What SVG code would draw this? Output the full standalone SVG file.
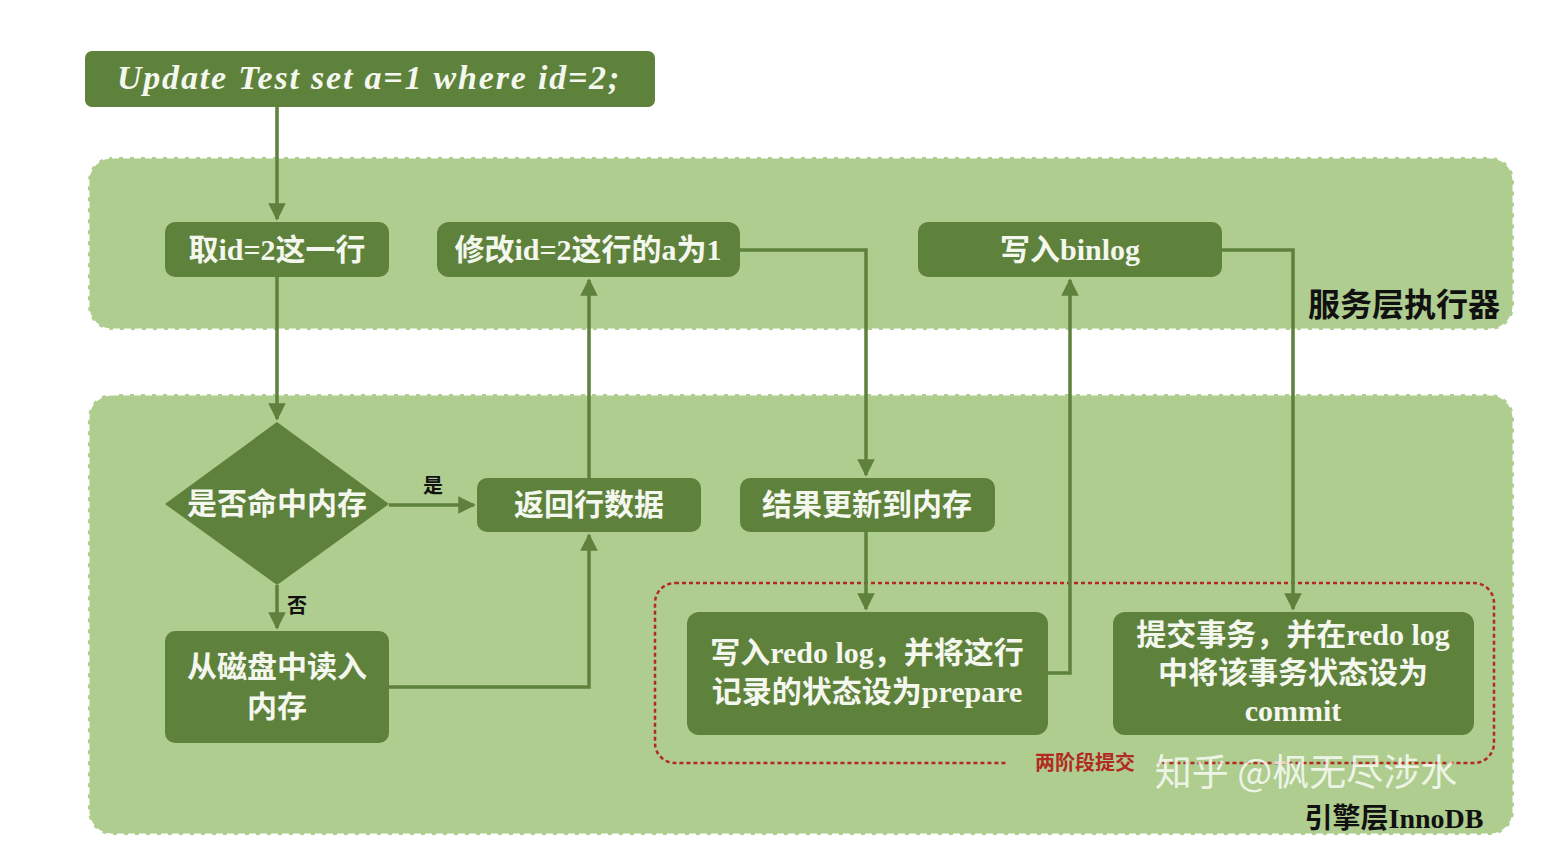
<svg xmlns="http://www.w3.org/2000/svg" width="1564" height="852" viewBox="0 0 1564 852">
<style>
.panel{fill:#aecd8f;stroke:#ffffff;stroke-width:3;stroke-dasharray:7 4}
.node{fill:#5e813c}
.t{font-family:"Liberation Serif","Noto Sans CJK SC",serif;font-weight:bold;fill:#f4f7ee;font-size:30px;text-anchor:middle}
.lbl{font-family:"Liberation Serif","Noto Sans CJK SC",serif;font-weight:bold;fill:#111;text-anchor:middle}
.c{fill:none;stroke:#5e813c;stroke-width:3.5}
</style>
<defs>
<marker id="arr" viewBox="0 0 10 10" refX="9" refY="5" markerWidth="5" markerHeight="5" orient="auto" markerUnits="strokeWidth">
<path d="M0,0 L10,5 L0,10 z" fill="#5e813c"/>
</marker>
</defs>
<rect width="1564" height="852" fill="#ffffff"/>
<g id="panel-service"><rect class="panel" x="88" y="157" width="1426" height="173" rx="24"/>
<text class="lbl" x="1404" y="316" font-size="32">服务层执行器</text></g>
<g id="panel-engine"><rect class="panel" x="88" y="394" width="1426" height="441" rx="24"/></g>
<g id="two-phase"><rect x="655" y="583" width="839" height="180" rx="20" fill="none" stroke="#b22a22" stroke-width="2.5" stroke-dasharray="4 3"/>
<rect x="1008" y="750" width="150" height="24" fill="#aecd8f"/>
<text x="1085" y="770" font-family="Liberation Serif,'Noto Sans CJK SC',serif" font-weight="bold" font-size="20" fill="#b22a22" text-anchor="middle">两阶段提交</text></g>
<g id="connectors">
<path class="c" d="M277,107 V219" marker-end="url(#arr)"/>
<path class="c" d="M277,277 V419" marker-end="url(#arr)"/>
<path class="c" d="M389,505 H474" marker-end="url(#arr)"/>
<path class="c" d="M277,585 V628" marker-end="url(#arr)"/>
<path class="c" d="M389,687 H589 V535" marker-end="url(#arr)"/>
<path class="c" d="M589,478 V280" marker-end="url(#arr)"/>
<path class="c" d="M740,250 H866 V475" marker-end="url(#arr)"/>
<path class="c" d="M866,532 V609" marker-end="url(#arr)"/>
<path class="c" d="M1048,673 H1070 V280" marker-end="url(#arr)"/>
<path class="c" d="M1222,250 H1293 V609" marker-end="url(#arr)"/>
<text class="lbl" x="433" y="493" font-size="20">是</text>
<text class="lbl" x="297" y="613" font-size="20">否</text>
</g>
<g id="n-sql"><rect class="node" x="85" y="51" width="570" height="56" rx="7"/>
<text x="369" y="89" font-family="'Liberation Serif',serif" font-style="italic" font-weight="bold" font-size="34" letter-spacing="1.8" fill="#f4f7ee" text-anchor="middle">Update Test set a=1 where id=2;</text></g>
<g id="n-fetch"><rect class="node" x="165" y="222" width="224" height="55" rx="10"/>
<text class="t" x="277" y="260">取id=2这一行</text></g>
<g id="n-modify"><rect class="node" x="437" y="222" width="303" height="55" rx="12"/>
<text class="t" x="588" y="260">修改id=2这行的a为1</text></g>
<g id="n-binlog"><rect class="node" x="918" y="222" width="304" height="55" rx="10"/>
<text class="t" x="1070" y="260">写入binlog</text></g>
<g id="n-hit"><polygon class="node" points="277,422 389,504 277,585 165,504"/>
<text class="t" x="277" y="514">是否命中内存</text></g>
<g id="n-return"><rect class="node" x="477" y="478" width="224" height="54" rx="10"/>
<text class="t" x="589" y="515">返回行数据</text></g>
<g id="n-update"><rect class="node" x="740" y="478" width="255" height="54" rx="10"/>
<text class="t" x="867" y="515">结果更新到内存</text></g>
<g id="n-disk"><rect class="node" x="165" y="631" width="224" height="112" rx="10"/>
<text class="t" x="277" y="677">从磁盘中读入</text>
<text class="t" x="277" y="717">内存</text></g>
<g id="n-redo"><rect class="node" x="687" y="612" width="361" height="123" rx="12"/>
<text class="t" x="867" y="663">写入redo log，并将这行</text>
<text class="t" x="867" y="702">记录的状态设为prepare</text></g>
<g id="n-commit"><rect class="node" x="1113" y="612" width="361" height="123" rx="12"/>
<text class="t" x="1293" y="645">提交事务，并在redo log</text>
<text class="t" x="1293" y="683">中将该事务状态设为</text>
<text class="t" x="1293" y="721">commit</text></g>
<text x="1306" y="786" font-family="'Noto Sans CJK SC',sans-serif" font-size="37" fill="#ffffff" fill-opacity="0.8" text-anchor="middle">知乎 @枫无尽涉水</text>
<text class="lbl" x="1394" y="828" font-size="28">引擎层InnoDB</text>
</svg>
